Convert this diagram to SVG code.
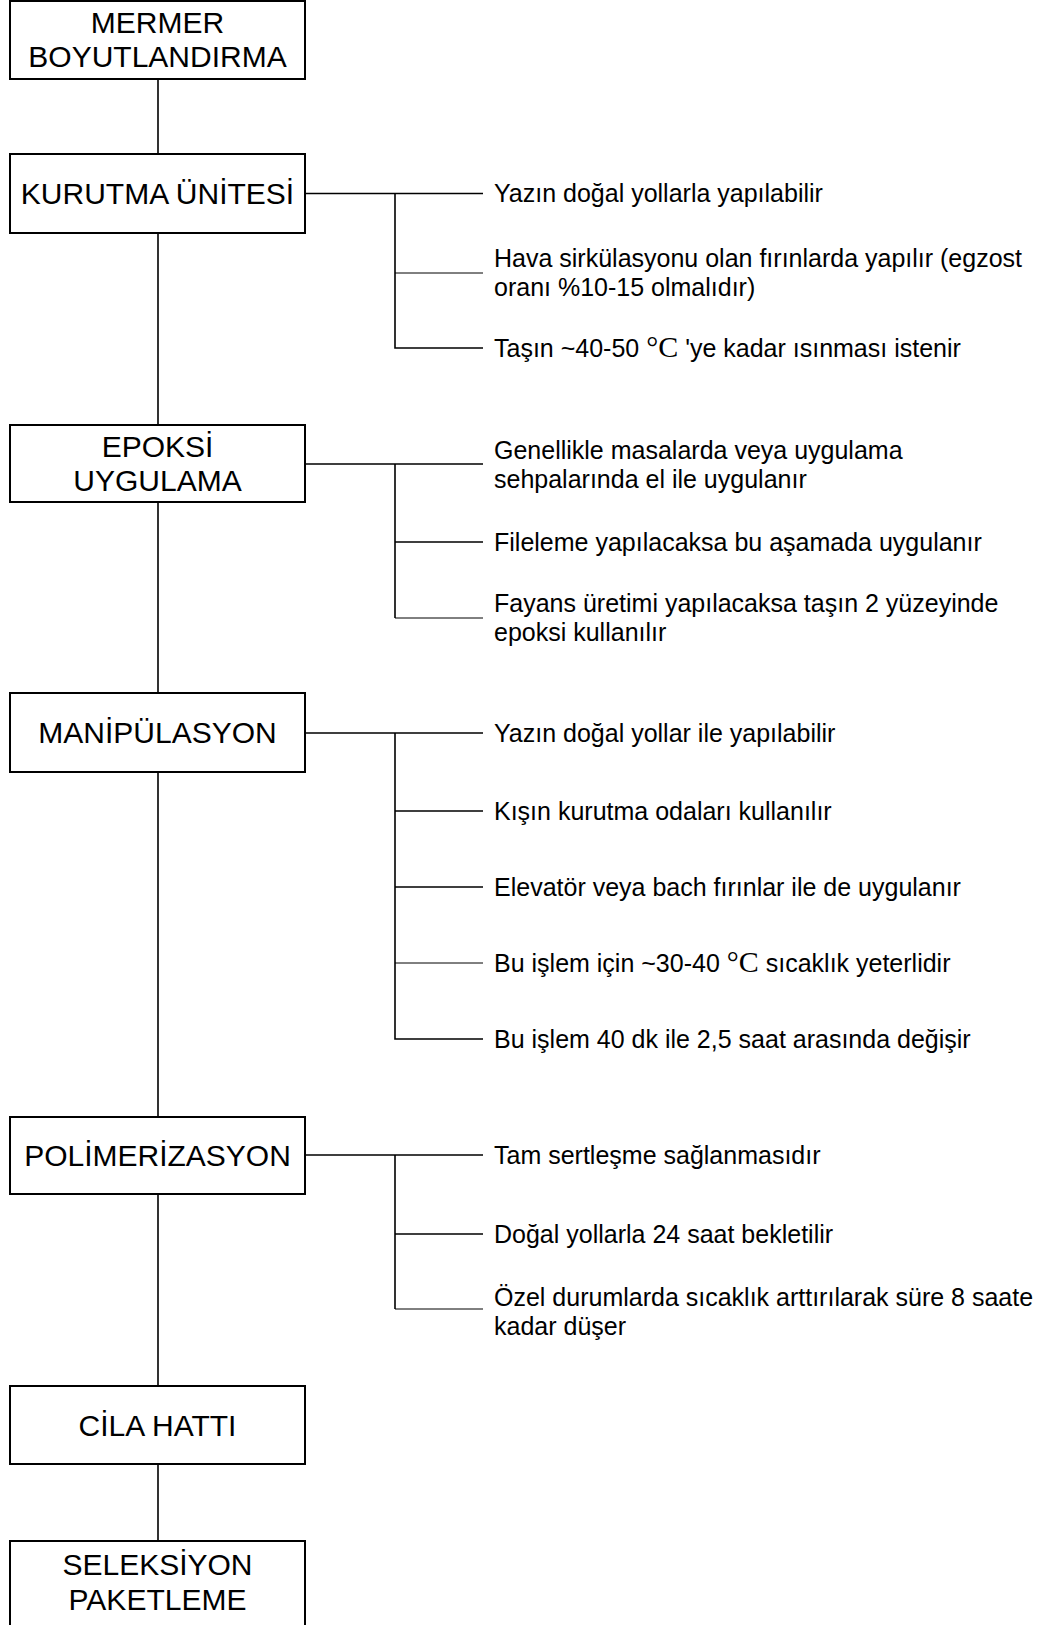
<svg xmlns="http://www.w3.org/2000/svg" width="1040" height="1625" viewBox="0 0 1040 1625">
<style>
.box{fill:#fff;stroke:#000;stroke-width:2}
.bt{font-family:"Liberation Sans",Arial,sans-serif;font-size:30px;fill:#000;text-anchor:middle}
.lt{font-family:"Liberation Sans",Arial,sans-serif;font-size:25px;fill:#000}
.deg{font-family:"Liberation Serif","Times New Roman",serif;font-size:30px}
.ln{stroke:#000;stroke-width:1.6;fill:none}
.thin{stroke:#000;stroke-width:1;fill:none}
</style>
<rect x="0" y="0" width="1040" height="1625" fill="#fff"/>
<g id="connectors">
<path class="ln" d="M158 79V154M158 233V425M158 502V693M158 772V1117M158 1194V1386M158 1464V1541"/>
<path class="ln" d="M305 193.5H483M395 193.5V348H483"/>
<path class="thin" d="M395 273H483"/>
<path class="ln" d="M305 464H483M395 464V618M395 542H483"/>
<path class="thin" d="M395 618H483"/>
<path class="ln" d="M305 733H483M395 733V1039H483M395 811H483M395 887H483"/>
<path class="thin" d="M395 963H483"/>
<path class="ln" d="M305 1155H483M395 1155V1309M395 1234H483"/>
<path class="thin" d="M395 1309H483"/>
</g>
<g id="n1"><rect class="box" x="10" y="1" width="295" height="78"/><text class="bt" x="157.5" y="33">MERMER</text><text class="bt" x="157.5" y="67">BOYUTLANDIRMA</text></g>
<g id="n2"><rect class="box" x="10" y="154" width="295" height="79"/><text class="bt" x="157.5" y="204">KURUTMA ÜNİTESİ</text></g>
<g id="n3"><rect class="box" x="10" y="425" width="295" height="77"/><text class="bt" x="157.5" y="457">EPOKSİ</text><text class="bt" x="157.5" y="491">UYGULAMA</text></g>
<g id="n4"><rect class="box" x="10" y="693" width="295" height="79"/><text class="bt" x="157.5" y="743">MANİPÜLASYON</text></g>
<g id="n5"><rect class="box" x="10" y="1117" width="295" height="77"/><text class="bt" x="157.5" y="1166">POLİMERİZASYON</text></g>
<g id="n6"><rect class="box" x="10" y="1386" width="295" height="78"/><text class="bt" x="157.5" y="1436">CİLA HATTI</text></g>
<g id="n7"><rect class="box" x="10" y="1541" width="295" height="100"/><text class="bt" x="157.5" y="1575">SELEKSİYON</text><text class="bt" x="157.5" y="1610">PAKETLEME</text></g>
<g id="labels-kurutma">
<text class="lt" x="494" y="202">Yazın doğal yollarla yapılabilir</text>
<text class="lt" x="494" y="267">Hava sirkülasyonu olan fırınlarda yapılır (egzost</text>
<text class="lt" x="494" y="296">oranı %10-15 olmalıdır)</text>
<text class="lt" x="494" y="357">Taşın ~40-50 <tspan class="deg">°C</tspan> 'ye kadar ısınması istenir</text>
</g>
<g id="labels-epoksi">
<text class="lt" x="494" y="459">Genellikle masalarda veya uygulama</text>
<text class="lt" x="494" y="488">sehpalarında el ile uygulanır</text>
<text class="lt" x="494" y="551">Fileleme yapılacaksa bu aşamada uygulanır</text>
<text class="lt" x="494" y="612">Fayans üretimi yapılacaksa taşın 2 yüzeyinde</text>
<text class="lt" x="494" y="641">epoksi kullanılır</text>
</g>
<g id="labels-manipulasyon">
<text class="lt" x="494" y="742">Yazın doğal yollar ile yapılabilir</text>
<text class="lt" x="494" y="820">Kışın kurutma odaları kullanılır</text>
<text class="lt" x="494" y="896">Elevatör veya bach fırınlar ile de uygulanır</text>
<text class="lt" x="494" y="972">Bu işlem için ~30-40 <tspan class="deg">°C</tspan> sıcaklık yeterlidir</text>
<text class="lt" x="494" y="1048">Bu işlem 40 dk ile 2,5 saat arasında değişir</text>
</g>
<g id="labels-polimerizasyon">
<text class="lt" x="494" y="1306">Özel durumlarda sıcaklık arttırılarak süre 8 saate</text>
<text class="lt" x="494" y="1335">kadar düşer</text>
<text class="lt" x="494" y="1164">Tam sertleşme sağlanmasıdır</text>
<text class="lt" x="494" y="1243">Doğal yollarla 24 saat bekletilir</text>
</g>
</svg>
